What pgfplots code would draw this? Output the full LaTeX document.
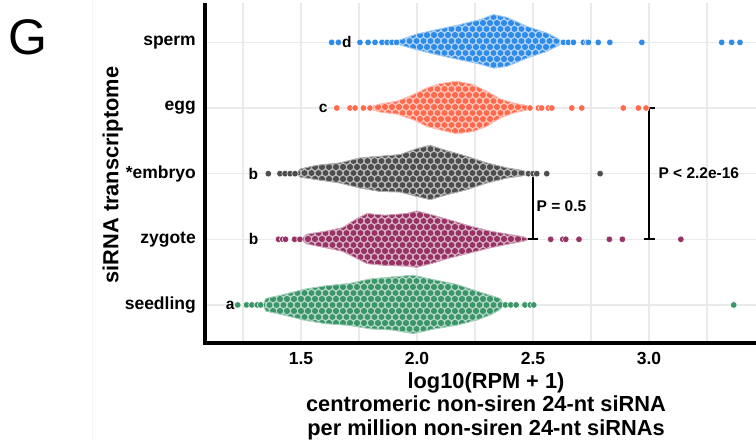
\documentclass[border=0pt]{standalone}
\usepackage{fontspec}
\setmainfont{Liberation Sans}
\usepackage{pgfplots}
\pgfplotsset{compat=1.18}
\usetikzlibrary{patterns}
\definecolor{csperm}{RGB}{46,139,232}
\definecolor{cegg}{RGB}{255,106,77}
\definecolor{cembryo}{RGB}{77,77,77}
\definecolor{czyg}{RGB}{150,50,100}
\definecolor{cseed}{RGB}{58,150,105}
\definecolor{gridgray}{RGB}{234,234,234}
\pgfdeclarepatternformonly{swarm}{\pgfqpoint{-3pt}{-0.1pt}}{\pgfqpoint{10pt}{12.1pt}}{\pgfqpoint{7pt}{12pt}}{%
  \pgfpathcircle{\pgfqpoint{3.5pt}{3pt}}{2.9pt}%
  \pgfpathcircle{\pgfqpoint{0pt}{9pt}}{2.9pt}%
  \pgfpathcircle{\pgfqpoint{7pt}{9pt}}{2.9pt}%
  \pgfusepath{fill}}
\begin{document}
\begin{tikzpicture}
\draw[color={rgb,255:red,244;green,244;blue,244}, line width=1pt] (-112pt,343pt) -- (-112pt,-97pt);
\begin{axis}[
  scale only axis, width=551pt, height=340pt,
  xmin=1.086, xmax=3.461, ymin=0.42, ymax=5.6,
  axis line style={draw=none},
  xtick={1.5,2,2.5,3}, xticklabels={1.5,2.0,2.5,3.0},
  minor xtick={1.25,1.75,2.25,2.75,3.25},
  ytick={1,2,3,4,5}, yticklabels={seedling,zygote,*embryo,egg,sperm},
  major tick length=0pt, minor tick length=0pt,
  grid=both,
  major grid style={draw=gridgray, line width=1.5pt},
  minor grid style={draw=gridgray, line width=1.5pt},
  tick label style={font=\fontsize{17.5}{20}\selectfont\bfseries},
  xticklabel style={inner sep=0pt, anchor=north}, xticklabel shift=9pt,
  yticklabel style={inner sep=0pt, anchor=east}, yticklabel shift=9pt,
  clip=false,
  dots/.style={only marks, mark=*, mark size=3.3pt, mark options={fill=#1, draw=white, line width=0.5pt}},
  body/.style={fill=#1!38!white, draw=#1!45!white, line width=0.8pt, postaction={pattern=swarm, pattern color=#1}},
]
% ---- sperm (y=5)
\addplot[body=csperm] coordinates {
(1.900,5.000) (1.934,5.046) (1.999,5.126) (2.085,5.193) (2.185,5.270) (2.272,5.346) (2.329,5.422) (2.387,5.381) (2.473,5.244) (2.559,5.142) (2.602,5.066) (2.630,5.000)
(2.602,4.939) (2.559,4.863) (2.473,4.761) (2.387,4.634) (2.329,4.609) (2.272,4.669) (2.185,4.736) (2.085,4.813) (1.999,4.889) (1.934,4.954)} -- cycle;
\addplot[dots=csperm] coordinates {
(1.632,5) (1.661,5) (1.754,5) (1.789,5) (1.819,5) (1.849,5) (1.871,5) (1.892,5) (1.912,5)
(2.631,5) (2.652,5) (2.674,5) (2.717,5) (2.732,5) (2.739,5) (2.781,5) (2.831,5) (2.969,5)
(3.313,5) (3.356,5) (3.392,5)};
% ---- egg (y=4)
\addplot[body=cegg] coordinates {
(1.800,4.000) (1.812,4.030) (1.841,4.061) (1.913,4.102) (1.984,4.203) (2.042,4.305) (2.099,4.370) (2.171,4.407) (2.243,4.355) (2.300,4.254) (2.358,4.137) (2.415,4.076) (2.473,4.035) (2.490,4.000)
(2.473,3.970) (2.415,3.924) (2.358,3.848) (2.300,3.721) (2.243,3.645) (2.171,3.609) (2.099,3.669) (2.042,3.721) (1.984,3.822) (1.913,3.909) (1.841,3.939) (1.812,3.970)} -- cycle;
\addplot[dots=cegg] coordinates {
(1.654,4) (1.711,4) (1.733,4) (1.769,4) (1.797,4)
(2.487,4) (2.523,4) (2.537,4) (2.566,4) (2.581,4) (2.667,4) (2.710,4) (2.889,4) (2.954,4) (2.987,4)};
% ---- embryo (y=3)
\addplot[body=cembryo] coordinates {
(1.480,3.000) (1.496,3.070) (1.568,3.126) (1.668,3.163) (1.754,3.239) (1.841,3.264) (1.927,3.289) (1.999,3.381) (2.056,3.431) (2.128,3.350) (2.214,3.264) (2.300,3.163) (2.387,3.087) (2.458,3.046) (2.480,3.000)
(2.458,2.970) (2.387,2.934) (2.300,2.858) (2.214,2.756) (2.128,2.680) (2.056,2.604) (1.999,2.654) (1.927,2.721) (1.841,2.730) (1.754,2.782) (1.668,2.858) (1.568,2.909) (1.496,2.950)} -- cycle;
\addplot[dots=cembryo] coordinates {
(1.359,3) (1.409,3) (1.431,3) (1.453,3) (1.474,3)
(2.480,3) (2.500,3) (2.516,3) (2.559,3) (2.789,3)};
% ---- zygote (y=2)
\addplot[body=czyg] coordinates {
(1.500,2.000) (1.525,2.076) (1.602,2.120) (1.678,2.174) (1.739,2.311) (1.785,2.391) (1.861,2.366) (1.953,2.391) (1.999,2.430) (2.060,2.375) (2.136,2.299) (2.228,2.201) (2.320,2.120) (2.412,2.065) (2.457,2.038) (2.480,2.000)
(2.457,1.970) (2.412,1.941) (2.320,1.875) (2.228,1.793) (2.136,1.712) (2.060,1.630) (1.999,1.575) (1.953,1.592) (1.861,1.604) (1.785,1.630) (1.739,1.712) (1.678,1.820) (1.602,1.875) (1.525,1.930)} -- cycle;
\addplot[dots=czyg] coordinates {
(1.403,2) (1.421,2) (1.433,2) (1.472,2) (1.495,2)
(2.576,2) (2.628,2) (2.641,2) (2.698,2) (2.829,2) (2.885,2) (3.137,2)};
% ---- seedling (y=1)
\addplot[body=cseed] coordinates {
(1.335,1.000) (1.349,1.097) (1.418,1.152) (1.510,1.235) (1.602,1.288) (1.708,1.326) (1.800,1.396) (1.892,1.425) (1.984,1.451) (2.075,1.381) (2.167,1.315) (2.259,1.207) (2.320,1.142) (2.358,1.097) (2.375,1.000)
(2.358,0.935) (2.320,0.854) (2.259,0.772) (2.167,0.689) (2.075,0.636) (1.984,0.564) (1.892,0.619) (1.800,0.636) (1.708,0.689) (1.602,0.717) (1.510,0.772) (1.418,0.854) (1.349,0.907)} -- cycle;
\addplot[dots=cseed] coordinates {
(1.227,1) (1.265,1) (1.288,1) (1.311,1) (1.326,1)
(2.381,1) (2.404,1) (2.427,1) (2.465,1) (2.488,1) (2.503,1) (3.365,1)};
% ---- letters
\begin{scope}[every node/.style={font=\fontsize{15.5}{18}\selectfont\bfseries, inner sep=0pt}]
\node at (axis cs:1.697,5) {d};
\node at (axis cs:1.595,4) {c};
\node at (axis cs:1.294,3) {b};
\node at (axis cs:1.296,2) {b};
\node at (axis cs:1.195,1) {a};
\end{scope}
% ---- brackets
\draw[line width=1.8pt] (axis cs:2.478,3) -- (axis cs:2.522,3);
\draw[line width=1.8pt] (axis cs:2.478,2) -- (axis cs:2.522,2);
\draw[line width=1.8pt] (axis cs:2.5,3) -- (axis cs:2.5,2);
\draw[line width=1.8pt] (axis cs:2.978,4) -- (axis cs:3.024,4);
\draw[line width=1.8pt] (axis cs:2.978,2) -- (axis cs:3.024,2);
\draw[line width=1.8pt] (axis cs:3.0,4) -- (axis cs:3.0,2);
\node[anchor=west, inner sep=0pt, font=\fontsize{15.5}{18}\selectfont\bfseries] at (axis cs:2.515,2.51) {P = 0.5};
\node[anchor=west, inner sep=0pt, font=\fontsize{15.5}{18}\selectfont\bfseries] at (axis cs:3.04,3.0) {P < 2.2e-16};
\end{axis}
\draw[line width=3.5pt, line join=miter] (0pt,340pt) -- (0pt,0pt) -- (555pt,0pt);
\node[anchor=base, inner sep=0pt, font=\fontsize{21.8}{24}\selectfont\bfseries] at (281pt,-45pt) {log10(RPM + 1)};
\node[anchor=base, inner sep=0pt, font=\fontsize{21.8}{24}\selectfont\bfseries] at (281pt,-68.5pt) {centromeric non-siren 24-nt siRNA};
\node[anchor=base, inner sep=0pt, font=\fontsize{21.8}{24}\selectfont\bfseries] at (281pt,-92pt) {per million non-siren 24-nt siRNAs};
\node[anchor=base, rotate=90, inner sep=0pt, font=\fontsize{21.8}{24}\selectfont\bfseries] at (-86.5pt,168pt) {siRNA transcriptome};
\node[inner sep=0pt, font=\fontsize{50}{55}\selectfont] at (-177.5pt,305.5pt) {G};
\pgfresetboundingbox
\path[use as bounding box] (-205pt,343pt) rectangle (551pt,-97pt);
\end{tikzpicture}
\end{document}
